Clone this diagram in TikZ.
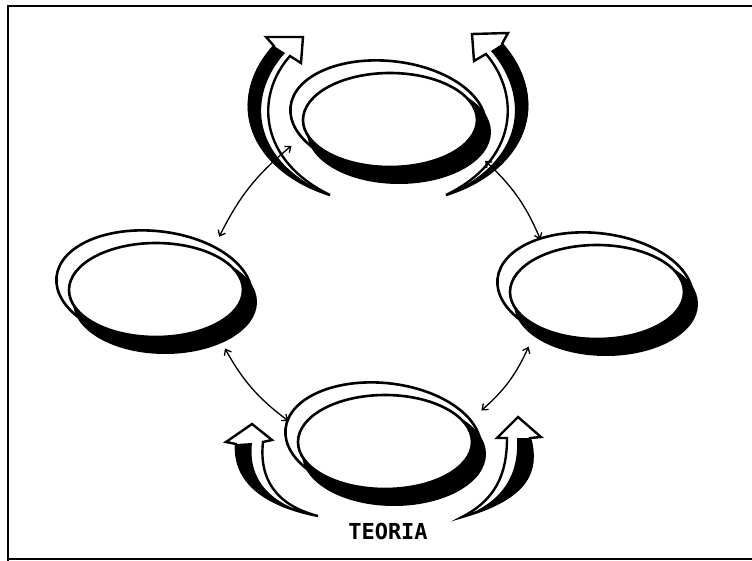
\documentclass[tikz,border=0pt]{standalone}
\usepackage{fontspec}
\newfontfamily\labelfont{DejaVu Sans Mono}
\usetikzlibrary{arrows.meta,calc,shapes.geometric}
\tikzset{
  hub/.style={ellipse, draw=none, minimum width=216pt, minimum height=136pt, inner sep=0pt},
  rim/.style={line width=2.6pt},
  link/.style={line width=1.3pt, {Straight Barb[length=5pt,width=8pt]}-{Straight Barb[length=5pt,width=8pt]}},
  ribbon/.style={fill=white, draw=black, line width=2.4pt, line join=miter},
  band/.style={fill=black},
  frameline/.style={line width=2.4pt},
}
\newcommand\drawoval[1]{%
  \coordinate (#1o) at ($(#1)+(-6,-7)$);
  \draw[rim, rotate around={-6:(#1o)}] (#1o) ellipse [x radius=98, y radius=56];
  \fill ($(#1)+(5,8)$) ellipse [x radius=92, y radius=52];
  \draw[rim, fill=white] ($(#1)+(-4,-4)$) ellipse [x radius=87, y radius=47];
}
\begin{document}
\begin{tikzpicture}[x=1pt,y=-1pt]
\useasboundingbox (0,0) rectangle (752,561);
% frame
\draw[frameline] (752,6) -- (8,6) -- (8,561);
\draw[line width=1.2pt] (8,559) -- (752,559);

% hub nodes (invisible, used for connectors)
\node[hub] (T) at (394,124) {};
\node[hub] (L) at (160,294) {};
\node[hub] (R) at (601,296) {};
\node[hub] (B) at (389,446) {};

% big curved arrows
% top-left
\draw[ribbon] (330,195) .. controls (250,170) and (225,100) .. (274,46)
  -- (266,37) -- (303,37) -- (301,63) -- (290,56)
  .. controls (255,95) and (258,160) .. (330,195) -- cycle;
\fill[band] (330,195) .. controls (248,170) and (223,100) .. (274,46)
  -- (285,53) .. controls (247,95) and (249,160) .. (330,195) -- cycle;
% top-right
\draw[ribbon] (446,195) .. controls (526,170) and (551,100) .. (502,44)
  -- (508,33) -- (472,34) -- (474,61) -- (486,54)
  .. controls (521,95) and (518,160) .. (446,195) -- cycle;
\fill[band] (446,195) .. controls (528,170) and (553,100) .. (502,44)
  -- (491,51) .. controls (529,95) and (527,160) .. (446,195) -- cycle;
% bottom-left
\draw[ribbon] (318,516) .. controls (262,505) and (234,480) .. (236,444)
  -- (226,442) -- (252,424) -- (272,440) -- (263,442)
  .. controls (259,478) and (275,505) .. (318,516) -- cycle;
\fill[band] (318,516) .. controls (260,505) and (232,480) .. (236,444)
  -- (252,443) .. controls (248,478) and (268,505) .. (318,516) -- cycle;
% bottom-right
\draw[ribbon] (462,517) .. controls (522,500) and (540,475) .. (530,438)
  -- (541,437) -- (518,417) -- (497,438) -- (507,438)
  .. controls (507,475) and (495,500) .. (462,517) -- cycle;
\fill[band] (462,517) .. controls (524,500) and (542,475) .. (530,438)
  -- (517,438) .. controls (519,475) and (503,502) .. (462,517) -- cycle;

% ovals
\drawoval{T}
\drawoval{L}
\drawoval{R}
\drawoval{B}

% connectors
\draw[link] (L.44) to[bend left=12] (T.192);
\draw[link] (T.338) to[bend left=12] (R.137);
\draw[link] (L.320) to[bend right=12] (B.166);
\draw[link] (B.21) to[bend right=12] (R.215);

% label
\node (teoria) at (388,531) {\labelfont\bfseries\fontsize{22}{22}\selectfont TEORIA};
\end{tikzpicture}
\end{document}
